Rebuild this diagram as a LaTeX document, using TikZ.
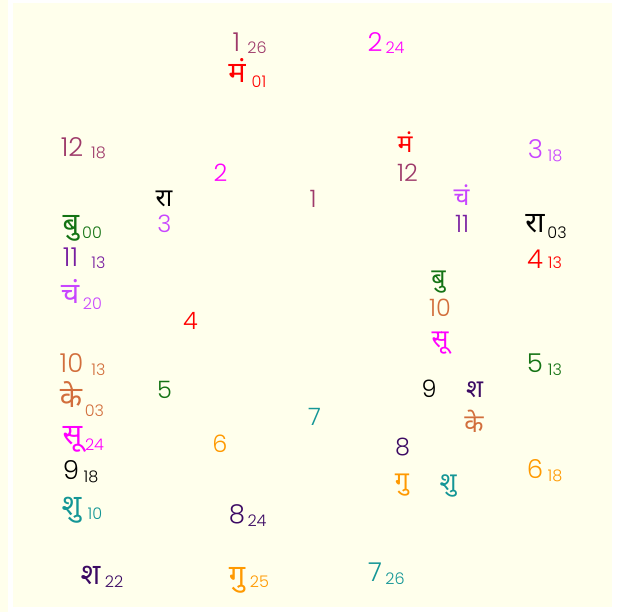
\documentclass[tikz,border=0pt]{standalone}
\usepackage{fontspec}
\IfFontExistsTF{Poppins Light}{\setmainfont{Poppins Light}}{\setmainfont{Poppins}}
\newfontfamily\devf[Script=Devanagari]{Noto Sans}
\definecolor{bgc}{RGB}{255,255,236}
\definecolor{cplum}{RGB}{158,58,106}
\definecolor{cred}{RGB}{255,0,0}
\definecolor{cmag}{RGB}{255,0,255}
\definecolor{cviol}{RGB}{200,70,255}
\definecolor{cpurp}{RGB}{120,30,160}
\definecolor{cgreen}{RGB}{20,115,20}
\definecolor{cbrown}{RGB}{210,110,60}
\definecolor{cteal}{RGB}{20,150,150}
\definecolor{cindigo}{RGB}{60,10,100}
\definecolor{corange}{RGB}{255,153,0}
\begin{document}
\begin{tikzpicture}[x=1pt,y=-1pt,
  every node/.style={inner sep=0pt,outer sep=0pt,anchor=center},
  big/.style={font=\fontsize{26}{26}\selectfont},
  mid/.style={font=\fontsize{24}{24}\selectfont},
  bigd/.style={font=\fontsize{29}{29}\selectfont\devf},
  midd/.style={font=\fontsize{25}{25}\selectfont\devf},
  sub/.style={font=\fontsize{16}{16}\selectfont}]
\useasboundingbox (0,0) rectangle (617,612);
\fill[white] (0,0) rectangle (617,612);
\fill[bgc] (0,0) rectangle (8,612);
\fill[bgc] (13,3) rectangle (612,607);
% outer labels
\node[big,cplum] (o1) at (236.5,42) {1};
\node[sub,cplum] (o1s) at (257,47.5) {26};
\node[bigd,cred] (oma) at (237,70.5) {मं};
\node[sub,cred] (omas) at (259,82) {01};
\node[big,cmag] (o2) at (375,42) {2};
\node[sub,cmag] (o2s) at (395,47.5) {24};
\node[big,cplum] (o12) at (72,147.5) {12};
\node[sub,cplum] (o12s) at (98.5,153) {18};
\node[big,cviol] (o3) at (535.5,149.5) {3};
\node[sub,cviol] (o3s) at (555,155.5) {18};
\node[bigd,cgreen] (obu) at (71,228.5) {बु};
\node[sub,cgreen] (obus) at (92,232.5) {00};
\node[bigd,black] (ora) at (535,224) {रा};
\node[sub,black] (oras) at (557,232.5) {03};
\node[big,cpurp] (o11) at (70.5,257) {11};
\node[sub,cpurp] (o11s) at (98.5,263) {13};
\node[big,cred] (o4) at (535,259) {4};
\node[sub,cred] (o4s) at (555,263) {13};
\node[bigd,cviol] (och) at (70,291.5) {चं};
\node[sub,cviol] (ochs) at (92.5,303.5) {20};
\node[big,cbrown] (o10) at (71.5,363) {10};
\node[sub,cbrown] (o10s) at (98.5,369.5) {13};
\node[big,cgreen] (o5) at (535,363) {5};
\node[sub,cgreen] (o5s) at (555,369.5) {13};
\node[bigd,cbrown] (oke) at (71,395) {के};
\node[sub,cbrown] (okes) at (94.5,410.5) {03};
\node[bigd,cmag] (osu) at (72.5,439.5) {सू};
\node[sub,cmag] (osus) at (94.5,445) {24};
\node[big,black] (o9) at (71,470) {9};
\node[sub,black] (o9s) at (91,476.5) {18};
\node[big,corange] (o6) at (535,469.5) {6};
\node[sub,corange] (o6s) at (555,475.5) {18};
\node[bigd,cteal] (oshu) at (71.5,510.5) {शु};
\node[sub,cteal] (oshus) at (95,513.5) {10};
\node[big,cindigo] (o8) at (237,514) {8};
\node[sub,cindigo] (o8s) at (257,521) {24};
\node[bigd,cindigo] (osha) at (90.5,575.5) {श};
\node[sub,cindigo] (oshas) at (114,582) {22};
\node[bigd,corange] (ogu) at (237,580) {गु};
\node[sub,corange] (ogus) at (259.5,581.5) {25};
\node[big,cteal] (o7) at (375,572) {7};
\node[sub,cteal] (o7s) at (395,578.5) {26};
% inner labels
\node[midd,cred] (ima) at (405,142.5) {मं};
\node[mid,cplum] (i12) at (407.5,172.5) {12};
\node[mid,cmag] (i2) at (220.5,172.5) {2};
\node[mid,cplum] (i1) at (313,198.5) {1};
\node[midd,cviol] (ich) at (461.5,195) {चं};
\node[mid,cpurp] (i11) at (462,224) {11};
\node[midd,black] (ira) at (164,198.5) {रा};
\node[mid,cviol] (i3) at (164.5,224) {3};
\node[midd,cgreen] (ibu) at (438.5,282.5) {बु};
\node[mid,cbrown] (i10) at (440,308) {10};
\node[midd,cmag] (isu) at (440,343.5) {सू};
\node[mid,cred] (i4) at (190.5,321) {4};
\node[mid,cgreen] (i5) at (164.5,390) {5};
\node[mid,black] (i9) at (429,389) {9};
\node[midd,cindigo] (isha) at (474.5,390) {श};
\node[midd,cbrown] (ike) at (474,421.5) {के};
\node[mid,cteal] (i7) at (314.5,417) {7};
\node[mid,corange] (i6) at (220,443.5) {6};
\node[mid,cindigo] (i8) at (402.5,447.5) {8};
\node[midd,corange] (igu) at (402,485.5) {गु};
\node[midd,cteal] (ishu) at (448,485.5) {शु};
\end{tikzpicture}
\end{document}
